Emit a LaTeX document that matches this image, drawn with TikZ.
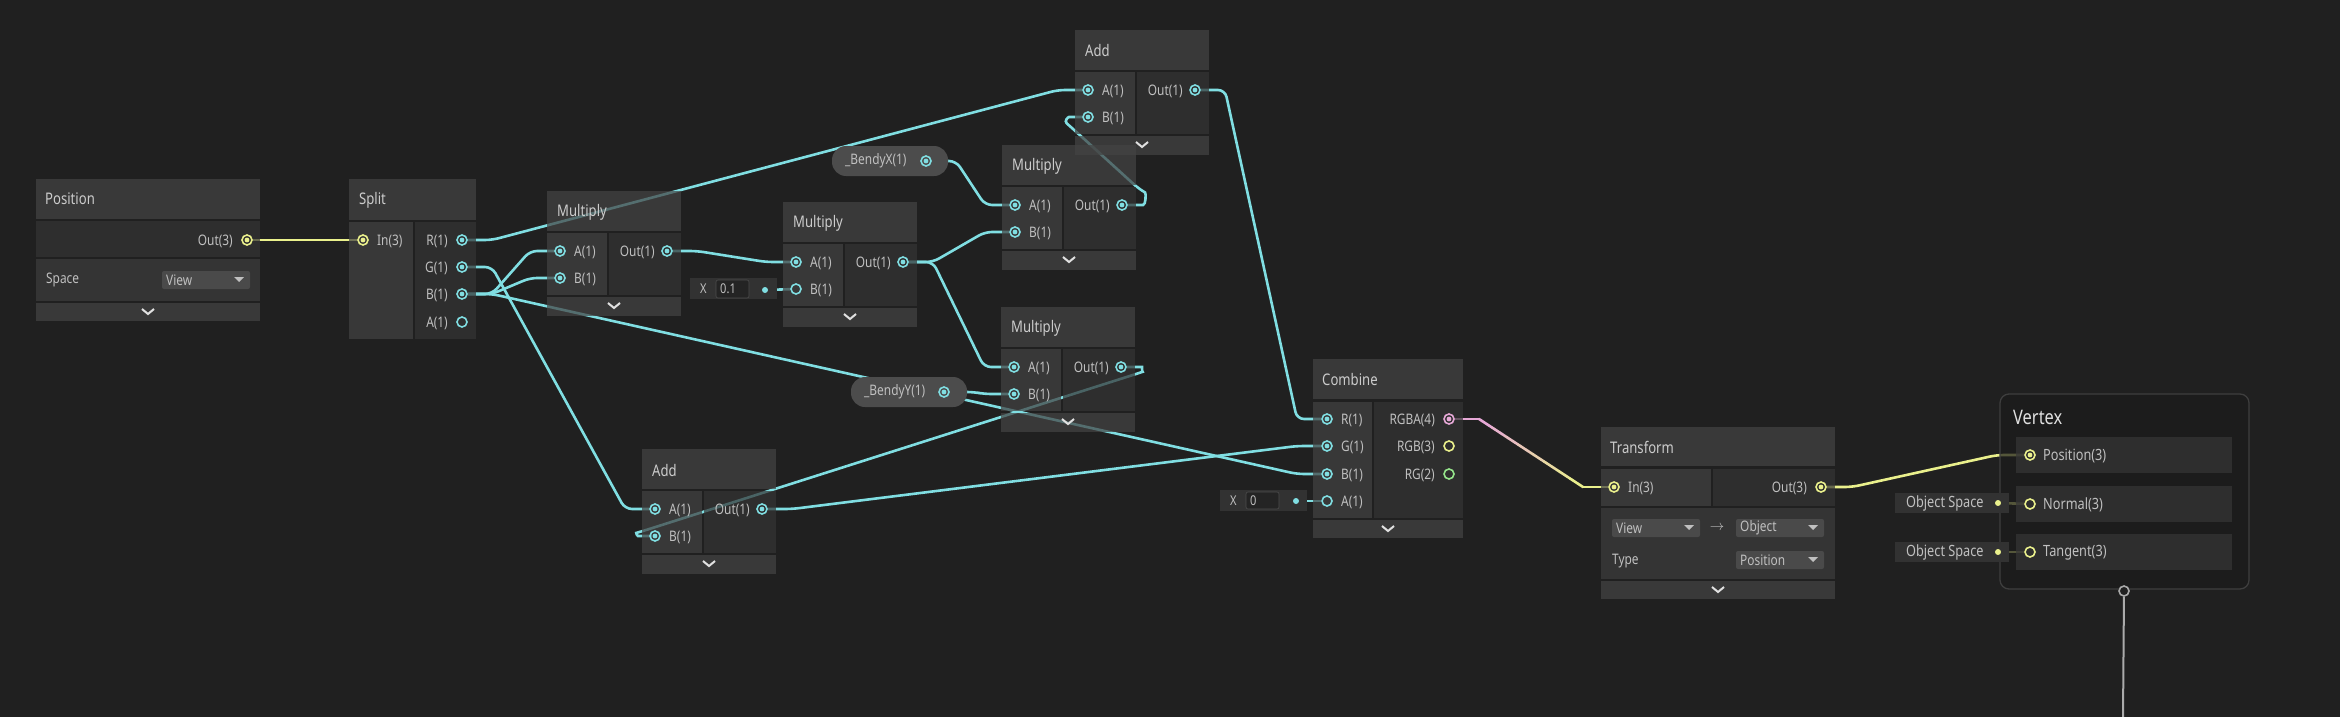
\documentclass[tikz,border=0pt]{standalone}
\usepackage{fontspec}
\setmainfont[FakeStretch=0.82]{Noto Sans}
\usetikzlibrary{positioning,calc}

\definecolor{canvas}{RGB}{32,32,32}
\definecolor{titlebg}{RGB}{68,68,68}
\definecolor{inbg}{RGB}{66,66,66}
\definecolor{outbg}{RGB}{52,52,52}
\definecolor{ctrlbg}{RGB}{60,60,60}
\definecolor{slotbg}{RGB}{54,54,54}
\definecolor{fieldbg}{RGB}{50,50,50}
\definecolor{boxbg}{RGB}{36,36,36}
\definecolor{dropbg}{RGB}{74,74,74}
\definecolor{pillbg}{RGB}{76,76,76}
\definecolor{vbord}{RGB}{62,62,62}
\definecolor{txt}{RGB}{192,192,192}
\definecolor{cyanw}{RGB}{128,222,226}
\definecolor{yelw}{RGB}{234,240,140}
\definecolor{pinkw}{RGB}{230,168,214}
\definecolor{greenw}{RGB}{150,230,140}
\definecolor{grayw}{RGB}{170,170,170}

\pgfdeclarelayer{bg}
\pgfdeclarelayer{wires}
\pgfsetlayers{bg,wires,main}

\tikzset{
  sect/.style={fill=#1, fill opacity=0.72},
  ttl/.style={anchor=west, inner sep=0pt, text=white!80!black, font=\fontsize{16}{18}\selectfont},
  lbl/.style={anchor=west, inner sep=0pt, text=txt, font=\fontsize{14.5}{17}\selectfont},
  rlbl/.style={lbl, anchor=east},
  small/.style={lbl, font=\fontsize{13.5}{15}\selectfont},
  port/.style={circle, draw=#1, line width=1.6pt, inner sep=0pt, minimum size=10pt},
  dot/.style={path picture={\fill[fill=#1] (path picture bounding box.center) circle (2.4pt);}},
  con/.style={port=#1, dot=#1},
  knob/.style={circle, fill=#1, inner sep=0pt, minimum size=6pt},
  wire/.style={draw=#1, line width=2.6pt, rounded corners=7pt},
  wire/.default=cyanw,
  chev/.style={draw=white!88!black, line width=2pt},
  pill/.style={fill=pillbg, rounded corners=14pt},
  field/.style={fill=fieldbg},
  tbox/.style={fill=boxbg, draw=black!70, line width=0.6pt, rounded corners=2pt},
  drop/.style={fill=dropbg, rounded corners=2pt},
}

\begin{document}
\begin{tikzpicture}[x=1pt, y=-1pt]
\useasboundingbox (0,0) rectangle (2340,717);
\begin{pgfonlayer}{bg}
  \fill[canvas] (0,0) rectangle (2340,717);
\end{pgfonlayer}

% Position
\fill[sect=titlebg] (36,179) rectangle (260,219);
\fill[sect=outbg] (36,221) rectangle (260,257);
\fill[sect=ctrlbg] (36,259) rectangle (260,301);
\fill[sect=titlebg] (36,303) rectangle (260,321);
\draw[chev] (142,309) -- ++(6,5) -- ++(6,-5);
\node[ttl] (pos) at (45,199) {Position};
\node[rlbl] (pos-outl) at (233,241) {Out(3)};
\node[con=yelw] (pos-out) at (247,240) {};
\node[lbl] (pos-space) at (46,280) {Space};

% Split
\fill[sect=titlebg] (349,179) rectangle (476,220);
\fill[sect=inbg] (349,222) rectangle (413,339);
\fill[sect=outbg] (415,222) rectangle (476,339);
\node[ttl] (split) at (359,200) {Split};
\node[con=yelw] (split-in) at (363,240) {};
\node[lbl] (split-inl) at (377,241) {In(3)};
\foreach \p/\yy/\d in {R/240/cyanw, G/267/cyanw, B/294/cyanw, A/322/none}{
  \node[port=cyanw, dot=\d] (split-\p) at (462,\yy) {};
  \node[rlbl] (split-\p l) at (448,\yy+1) {\p(1)};
}

% Multiply and Add nodes
\foreach \n/\t/\x/\y/\d in {mula/Multiply/547/191/cyanw, mulb/Multiply/783/202/none,
    mulc/Multiply/1002/145/cyanw, muld/Multiply/1001/307/cyanw,
    adda/Add/1075/30/cyanw, addb/Add/642/449/cyanw}{
  \fill[sect=titlebg] (\x,\y) rectangle ++(134,40);
  \fill[sect=inbg] (\x,\y+42) rectangle ++(60,62);
  \fill[sect=outbg] (\x+62,\y+42) rectangle ++(72,62);
  \fill[sect=titlebg] (\x,\y+106) rectangle ++(134,19);
  \draw[chev] (\x+61,\y+112) -- ++(6,5) -- ++(6,-5);
  \node[ttl] (\n) at (\x+10,\y+21) {\t};
  \node[con=cyanw] (\n-A) at (\x+13,\y+60) {};
  \node[port=cyanw, dot=\d] (\n-B) at (\x+13,\y+87) {};
  \node[con=cyanw] (\n-out) at (\x+120,\y+60) {};
  \node[lbl] (\n-Al) at (\x+27,\y+61) {A(1)};
  \node[lbl] (\n-Bl) at (\x+27,\y+88) {B(1)};
  \node[rlbl] (\n-outl) at (\x+108,\y+61) {Out(1)};
}

% properties
\fill[pill] (832,146) rectangle (948,176);
\node[lbl] (bendx-l) at (845,161) {\_BendyX(1)};
\node[con=cyanw] (bendx) at (926,161) {};
\fill[pill] (851,377) rectangle (967,407);
\node[lbl] (bendy-l) at (864,392) {\_BendyY(1)};
\node[con=cyanw] (bendy) at (944,392) {};

% inline values
\fill[field] (690,278) rectangle (777,299);
\node[small] (xa-l) at (700,289) {X};
\draw[tbox] (716,280) rectangle (749,298);
\node[small] (xa-v) at (720,289) {0.1};
\node[knob=cyanw] (xa) at (765,290) {};
\fill[field] (1220,490) rectangle (1307,511);
\node[small] (xz-l) at (1230,501) {X};
\draw[tbox] (1246,492) rectangle (1279,509);
\node[small] (xz-v) at (1250,501) {0};
\node[knob=cyanw] (xz) at (1296,501) {};

% Combine
\fill[sect=titlebg] (1313,359) rectangle (1463,399);
\fill[sect=inbg] (1313,402) rectangle (1372,518);
\fill[sect=outbg] (1374,402) rectangle (1463,518);
\fill[sect=titlebg] (1313,520) rectangle (1463,538);
\draw[chev] (1382,526) -- ++(6,5) -- ++(6,-5);
\node[ttl] (comb) at (1322,379) {Combine};
\foreach \p/\yy/\d in {R/419/cyanw, G/446/cyanw, B/474/cyanw, A/501/none}{
  \node[port=cyanw, dot=\d] (comb-\p) at (1327,\yy) {};
  \node[lbl] (comb-\p l) at (1341,\yy+1) {\p(1)};
}
\foreach \p/\k/\yy/\c/\d in {RGBA/4/419/pinkw/pinkw, RGB/3/446/yelw/none, RG/2/474/greenw/none}{
  \node[port=\c, dot=\d] (comb-\p) at (1449,\yy) {};
  \node[rlbl] (comb-\p l) at (1435,\yy+1) {\p(\k)};
}

% Transform
\fill[sect=titlebg] (1601,427) rectangle (1835,466);
\fill[sect=inbg] (1601,469) rectangle (1711,506);
\fill[sect=outbg] (1713,469) rectangle (1835,506);
\fill[sect=ctrlbg] (1601,508) rectangle (1835,579);
\fill[sect=titlebg] (1601,581) rectangle (1835,599);
\draw[chev] (1712,587) -- ++(6,5) -- ++(6,-5);
\node[ttl] (tr) at (1610,447) {Transform};
\node[con=yelw] (tr-in) at (1614,487) {};
\node[lbl] (tr-inl) at (1628,488) {In(3)};
\node[rlbl] (tr-outl) at (1807,488) {Out(3)};
\node[con=yelw] (tr-out) at (1821,487) {};
\node[lbl, anchor=center] (tr-arrow) at (1717,528) {$\rightarrow$};
\node[lbl] (tr-type) at (1612,561) {Type};

% dropdowns
\foreach \n/\x/\y/\w/\t in {posdrop/162/271/88/View, trfrom/1612/519/88/View,
    trto/1736/519/88/Object, trtype/1736/551/88/Position}{
  \fill[drop] (\x,\y) rectangle ++(\w,18);
  \node[lbl] (\n) at (\x+4,\y+9) {\t};
  \fill[txt] (\x+\w-16,\y+6) -- ++(10,0) -- ++(-5,5) -- cycle;
}

% Vertex
\draw[draw=vbord, line width=1.3pt, fill=canvas!85!black, fill opacity=0.72, rounded corners=9pt] (2000,394) rectangle (2249,589);
\node[ttl, text=white!88!black, font=\fontsize{20}{22}\selectfont] (vtx) at (2013,417) {Vertex};
\foreach \p/\t/\yy/\d in {pos/Position/455/yelw, nrm/Normal/504/none, tan/Tangent/552/none}{
  \fill[sect=slotbg] (2016,\yy-18) rectangle (2232,\yy+18);
  \node[port=yelw, dot=\d] (vtx-\p) at (2030,\yy) {};
  \node[lbl, font=\fontsize{15.5}{18}\selectfont] (vtx-\p l) at (2043,\yy+1) {\t(3)};
}
\foreach \p/\yy in {nrm/503, tan/552}{
  \fill[field] (1895,\yy-10) rectangle (2009,\yy+10);
  \node[lbl, font=\fontsize{15.5}{18}\selectfont] (obj-\p l) at (1906,\yy) {Object Space};
  \node[knob=yelw] (obj-\p) at (1998,\yy) {};
}
\node[port=grayw, fill=canvas] (vtx-bot) at (2124,591) {};
\coordinate (vtx-end) at (2123,717);

% connections
\begin{pgfonlayer}{wires}
\draw[wire=yelw] (pos-out) -- (split-in);
\foreach \a/\b in {split-R/adda-A, split-G/addb-A, split-B/mula-A, split-B/mula-B,
    split-B/comb-B, mula-out/mulb-A, mulb-out/mulc-B, mulb-out/muld-A,
    bendx/mulc-A, bendy/muld-B, adda-out/comb-R, addb-out/comb-G}
  \draw[wire] (\a) -- ++(30,0) -- ($(\b)+(-30,0)$) -- (\b);
% loops back to the left
\draw[wire] (mulc-out) -- ($(mulc-out)+(14,0)$)
  .. controls ($(mulc-out)+(24,0)$) and ($(mulc-out)+(24,-12)$) .. ($(mulc-out)+(17,-16)$)
  -- ($(adda-B)+(-16,11)$)
  .. controls ($(adda-B)+(-24,4)$) and ($(adda-B)+(-20,0)$) .. ($(adda-B)+(-12,0)$) -- (adda-B);
\draw[wire] (muld-out) -- ($(muld-out)+(14,0)$)
  .. controls ($(muld-out)+(21,0)$) and ($(muld-out)+(21,5)$) .. ($(muld-out)+(15,7)$)
  -- ($(addb-B)+(-12,-5)$)
  .. controls ($(addb-B)+(-19,-3)$) and ($(addb-B)+(-18,0)$) .. ($(addb-B)+(-10,0)$) -- (addb-B);
\draw[wire] (xa) -- (mulb-B);
\draw[wire] (xz) -- (comb-A);
% pink into yellow
\draw[wire=pinkw] (comb-RGBA) -- ++(30,0) coordinate (fade-a);
\draw[wire=yelw] (tr-in) -- ++(-31,0) coordinate (fade-b);
\foreach \i in {0,...,7}{
  \pgfmathtruncatemacro\pc{100-\i*14}
  \draw[wire=pinkw!\pc!yelw, line cap=round] ($(fade-a)!\i/8!(fade-b)$) -- ($(fade-a)!\i/8+1/8!(fade-b)$);
}
\draw[wire=yelw] (tr-out) -- ++(31,0) -- ($(vtx-pos)+(-33,0)$) -- (vtx-pos);
\draw[wire=yelw] (obj-nrm) -- (vtx-nrm);
\draw[wire=yelw] (obj-tan) -- (vtx-tan);
\draw[grayw, line width=2pt] (vtx-bot) -- (vtx-end);
\end{pgfonlayer}
\end{tikzpicture}
\end{document}
